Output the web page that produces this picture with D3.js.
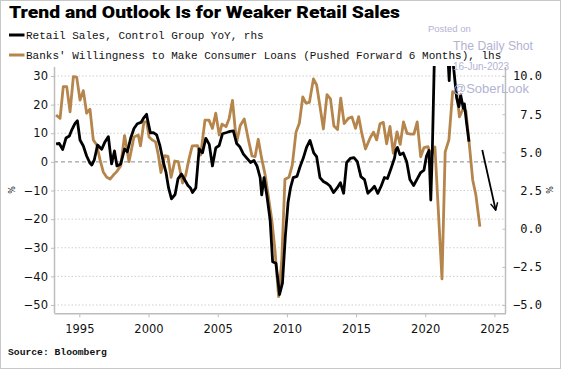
<!DOCTYPE html>
<html><head><meta charset="utf-8">
<script src="https://cdn.jsdelivr.net/npm/d3@7"></script>
<style>
html,body{margin:0;padding:0;background:#fff;}
svg{display:block;}
</style></head><body>
<svg id="c" width="564" height="370"></svg>
<script>
// ---------- data ----------
const title = "Trend and Outlook Is for Weaker Retail Sales";
const seriesNames = ["Retail Sales, Control Group YoY, rhs",
  "Banks' Willingness to Make Consumer Loans (Pushed Forward 6 Months), lhs"];
const sourceText = "Source: Bloomberg";

const loansYears = [1993.32,1993.61,1993.84,1994.09,1994.33,1994.57,1994.81,1995.05,1995.29,1995.53,1995.77,
  1996.01,1996.26,1996.50,1996.73,1996.98,1997.22,1997.46,1997.70,1997.99,1998.27,1998.59,1998.95,1999.26,1999.42,
  1999.67,1999.87,2000.04,2000.25,2000.51,2000.71,2000.90,2001.17,2001.41,2001.63,2001.90,2002.15,2002.46,2002.69,
  2002.91,2003.16,2003.54,2003.77,2004.08,2004.37,2004.62,2004.86,2005.11,2005.31,2005.60,2005.83,2006.07,2006.36,
  2006.63,2006.92,2007.23,2007.48,2007.70,2007.93,2008.17,2008.44,2008.67,2008.91,2009.14,2009.40,2009.63,2009.86,
  2010.15,2010.39,2010.66,2010.90,2011.15,2011.38,2011.63,2011.92,2012.15,2012.41,2012.64,2012.90,2013.15,2013.40,
  2013.66,2013.89,2014.14,2014.44,2014.70,2014.96,2015.19,2015.40,2015.68,2016.03,2016.26,2016.49,2016.73,2016.97,
  2017.21,2017.45,2017.69,2017.96,2018.19,2018.43,2018.68,2018.95,2019.18,2019.42,2019.67,2019.91,2020.20,2020.41,
  2020.70,2021.21,2021.44,2021.71,2021.98,2022.27,2022.47,2022.70,2022.94,2023.18,2023.43,2023.66,2023.95];
const loansValues = [16.4,15.2,26.3,26.3,17.5,29.8,29.6,21.6,24.9,17.0,18.4,
  7.7,5.9,0.7,-3.5,-5.4,-6.0,-4.6,-3.4,-1.4,9.2,0.1,8.7,9.4,5.6,
  14.0,14.0,8.7,7.7,7.0,2.4,-3.7,2.2,1.9,-5.4,0.3,0.1,-7.4,-4.6,
  0.7,5.6,5.7,2.4,14.6,14.6,11.7,17.0,9.4,13.2,12.3,15.2,21.5,6.6,
  12.7,15.0,7.5,2.1,1.8,7.9,1.4,-4.8,-12.3,-20.3,-30.8,-47.1,-34.3,-6.1,
  -5.4,-1.1,10.4,13.5,22.7,20.5,20.8,29.0,26.9,18.8,11.5,23.5,22.0,12.5,
  11.3,22.3,13.4,15.2,15.7,11.7,15.8,10.3,4.5,8.5,10.4,7.7,13.3,13.8,
  6.3,12.4,3.1,10.5,6.1,14.0,10.0,9.7,9.7,14.0,1.8,5.0,5.3,1.9,
  5.2,-40.9,3.5,7.7,24.5,24.2,15.7,18.2,17.8,6.4,-6.3,-11.6,-22.6];

const retailYears = [1993.32,1993.55,1993.80,1994.04,1994.28,1994.45,1994.69,1994.86,1995.05,1995.29,1995.53,
  1995.77,1995.90,1996.08,1996.32,1996.62,1996.86,1997.10,1997.33,1997.54,1997.72,1997.99,1998.27,1998.47,1998.71,
  1998.95,1999.19,1999.46,1999.67,1999.86,1999.96,2000.14,2000.35,2000.59,2000.83,2001.07,2001.26,2001.45,2001.66,
  2001.92,2002.13,2002.38,2002.62,2002.85,2003.03,2003.18,2003.42,2003.66,2003.90,2004.14,2004.39,2004.62,2004.86,
  2005.11,2005.35,2005.65,2005.89,2006.13,2006.37,2006.61,2006.86,2007.12,2007.37,2007.62,2007.84,2008.07,2008.18,
  2008.35,2008.56,2008.79,2008.97,2009.21,2009.47,2009.68,2009.89,2010.09,2010.26,2010.46,2010.73,2010.95,2011.18,
  2011.43,2011.67,2011.94,2012.15,2012.39,2012.64,2012.90,2013.11,2013.37,2013.62,2013.87,2014.10,2014.32,2014.58,
  2014.85,2015.09,2015.35,2015.61,2015.85,2016.09,2016.33,2016.57,2016.81,2017.05,2017.27,2017.54,2017.78,2017.88,
  2017.99,2018.17,2018.41,2018.66,2018.89,2019.16,2019.42,2019.67,2019.91,2020.09,2020.27,2020.40,2020.51,2020.74,
  2020.85,2020.94,2021.03,2021.13,2021.23,2021.32,2021.42,2021.53,2021.62,2021.73,2021.83,2021.92,2022.00,2022.27,
  2022.43,2022.56,2022.75,2022.83,2022.99,2023.16];
const retailValues = [5.55,5.58,5.19,5.94,6.07,6.46,6.90,7.07,5.81,5.42,4.76,
  4.30,4.17,4.50,5.48,5.20,5.70,6.03,4.24,5.09,4.11,4.24,5.22,5.04,5.92,
  6.56,6.87,6.96,7.28,7.49,7.01,6.27,6.29,6.14,5.42,4.37,3.71,2.67,1.95,
  2.24,3.26,3.58,3.19,2.83,2.67,2.37,2.67,5.22,4.97,5.92,5.52,4.11,5.29,
  5.45,6.22,6.30,6.37,6.40,5.58,5.35,4.89,4.61,4.34,4.47,4.11,3.35,2.21,
  3.35,2.14,0.57,-2.16,-2.27,-4.31,-3.56,-0.48,1.75,2.67,3.35,3.43,4.06,4.61,
  5.35,5.78,4.96,4.72,3.35,3.09,2.96,2.80,2.37,2.65,3.01,2.32,4.34,4.60,
  4.66,4.39,3.41,3.22,2.32,2.53,2.78,2.32,2.78,3.35,3.29,3.98,4.63,5.15,
  5.32,4.85,4.96,4.39,3.22,2.83,3.26,3.68,3.84,4.76,5.12,1.88,5.02,14.5,
  13.5,21.5,17.0,14.0,13.5,13.0,12.5,12.0,11.5,9.7,12.0,11.6,11.0,8.56,
  7.99,8.76,7.89,8.17,6.90,5.70];

const xTicks = [1995, 2000, 2005, 2010, 2015, 2020, 2025];
const leftTicks = [30, 20, 10, 0, -10, -20, -30, -40, -50];
const rightTicks = [10, 7.5, 5, 2.5, 0, -2.5, -5];
const arrowYears = [2024.12, 2025.09];
const arrowValues = [5.15, 1.22];   // rhs units

// ---------- layout ----------
const L = 54, R = 505.5, T = 67, B = 313.3;
const orange = "#b5854b", black = "#000";
const svg = d3.select("#c");

svg.append("rect").attr("x",0.5).attr("y",0.5).attr("width",560).attr("height",368)
  .attr("fill","#fff").attr("stroke","#c8c8c8");

const x = d3.scaleLinear().domain([1993.17, 2025.8]).range([L, R]);
const yL = d3.scaleLinear().domain([-52.9, 33.15]).range([B, T]);
const yR = d3.scaleLinear().domain([-5.54, 10.59]).range([B, T]);

// gridlines
svg.append("g").selectAll("line").data(leftTicks).join("line")
  .attr("x1", L).attr("x2", R)
  .attr("y1", d => yL(d)).attr("y2", d => yL(d))
  .attr("stroke", d => d === 0 ? "#8a8a8a" : "#cfcfcf")
  .attr("stroke-width", 1)
  .attr("stroke-dasharray", d => d === 0 ? "4,3" : "1.5,2");

// axes
const axisColor = "#bdbdbd";
const gL = svg.append("g").attr("transform", `translate(${L},0)`)
  .call(d3.axisLeft(yL).tickValues(leftTicks).tickFormat(d3.format("d")).tickSizeInner(3).tickSizeOuter(0).tickPadding(3));
const gR = svg.append("g").attr("transform", `translate(${R},0)`)
  .call(d3.axisRight(yR).tickValues(rightTicks).tickFormat(d3.format(".1f")).tickSizeInner(-3).tickSizeOuter(0));
const gB = svg.append("g").attr("transform", `translate(0,${B})`)
  .call(d3.axisBottom(x).tickValues(xTicks).tickFormat(d3.format("d")).tickSizeInner(4).tickSizeOuter(0).tickPadding(7.5));

[gL, gR, gB].forEach(g => {
  g.select(".domain").attr("stroke", axisColor).attr("stroke-width", 1.5);
  g.selectAll(".tick line").attr("stroke", axisColor);
  g.selectAll("text").attr("fill", "#111").attr("font-family", "'DejaVu Sans', sans-serif").attr("font-size", 11.5);
});
gL.select(".domain").attr("d", `M0.5,${T}V${B}`);
gR.select(".domain").attr("d", `M0,${T}V${B}`);
gR.selectAll("text").attr("text-anchor", "end").attr("x", 36.5)
  .attr("font-family", "'DejaVu Sans Mono', monospace").attr("font-size", 12);

// unit labels
svg.append("text").attr("transform", "translate(12.5,190) rotate(-90)")
  .attr("text-anchor","middle").attr("dy","0.35em").attr("font-family","'DejaVu Sans', sans-serif")
  .attr("font-size", 8).attr("fill","#111").text("%");
svg.append("text").attr("transform", "translate(550,190) rotate(-90)")
  .attr("text-anchor","middle").attr("dy","0.35em").attr("font-family","'DejaVu Sans', sans-serif")
  .attr("font-size", 8).attr("fill","#111").text("%");

// clip
svg.append("clipPath").attr("id","plotclip").append("rect")
  .attr("x", L).attr("y", T - 1).attr("width", R - L).attr("height", B - T + 1);

const loans = loansYears.map((d, i) => [d, loansValues[i]]);
const retail = retailYears.map((d, i) => [d, retailValues[i]]);

const plot = svg.append("g").attr("clip-path", "url(#plotclip)");
plot.append("path").datum(loans)
  .attr("d", d3.line().x(d => x(d[0])).y(d => yL(d[1])))
  .attr("fill","none").attr("stroke", orange).attr("stroke-width", 2.8).attr("stroke-linejoin","round");
plot.append("path").datum(retail)
  .attr("d", d3.line().x(d => x(d[0])).y(d => yR(d[1])))
  .attr("fill","none").attr("stroke", black).attr("stroke-width", 2.8).attr("stroke-linejoin","round");

// arrow
const defs = svg.append("defs");
defs.append("marker").attr("id","ah").attr("viewBox","0 0 10 10").attr("refX",9).attr("refY",5)
  .attr("markerWidth",5).attr("markerHeight",5).attr("orient","auto").attr("markerUnits","strokeWidth")
  .append("path").attr("d","M1,1 L9,5 L1,9").attr("fill","none").attr("stroke","#000").attr("stroke-width",1.6);
svg.append("line")
  .attr("x1", x(arrowYears[0])).attr("y1", yR(arrowValues[0]))
  .attr("x2", x(arrowYears[1])).attr("y2", yR(arrowValues[1]))
  .attr("stroke","#000").attr("stroke-width",1.8).attr("marker-end","url(#ah)");

// title
svg.append("text").attr("x", 9).attr("y", 18)
  .attr("font-family","Roboto, 'Liberation Sans', sans-serif").attr("font-weight","900")
  .attr("font-size", 17).attr("fill","#000")
  .attr("textLength", 391).attr("lengthAdjust","spacingAndGlyphs").text(title);

// legend
const legColors = [black, orange];
const legY = [35, 55];
seriesNames.forEach((s, i) => {
  svg.append("line").attr("x1", 9).attr("x2", 24.5).attr("y1", legY[i]).attr("y2", legY[i])
    .attr("stroke", legColors[i]).attr("stroke-width", 3);
  svg.append("text").attr("x", 26).attr("y", legY[i] + 4)
    .attr("font-family","'Liberation Mono', 'DejaVu Sans Mono', monospace")
    .attr("font-size", 11).attr("fill","#111").text(s);
});

// watermark
const wm = "#b3b3d3";
const wmFont = "'Liberation Sans', Arial, sans-serif";
svg.append("text").attr("x", 428).attr("y", 31.5).attr("font-family", wmFont).attr("font-size", 9.5).attr("fill", wm).text("Posted on");
svg.append("text").attr("x", 453).attr("y", 50).attr("font-family", wmFont).attr("font-size", 13).attr("fill", wm)
  .attr("textLength", 80).attr("lengthAdjust","spacingAndGlyphs").text("The Daily Shot");
svg.append("text").attr("x", 453).attr("y", 69.5).attr("font-family", wmFont).attr("font-size", 10).attr("fill", wm).text("16-Jun-2023");
svg.append("text").attr("x", 453).attr("y", 93).attr("font-family", wmFont).attr("font-size", 13).attr("fill", wm).text("@SoberLook");

// source
svg.append("text").attr("x", 8).attr("y", 355)
  .attr("font-family","'Liberation Mono', monospace").attr("font-weight","bold")
  .attr("font-size", 9.7).attr("fill","#111").text(sourceText);
</script>
</body></html>
